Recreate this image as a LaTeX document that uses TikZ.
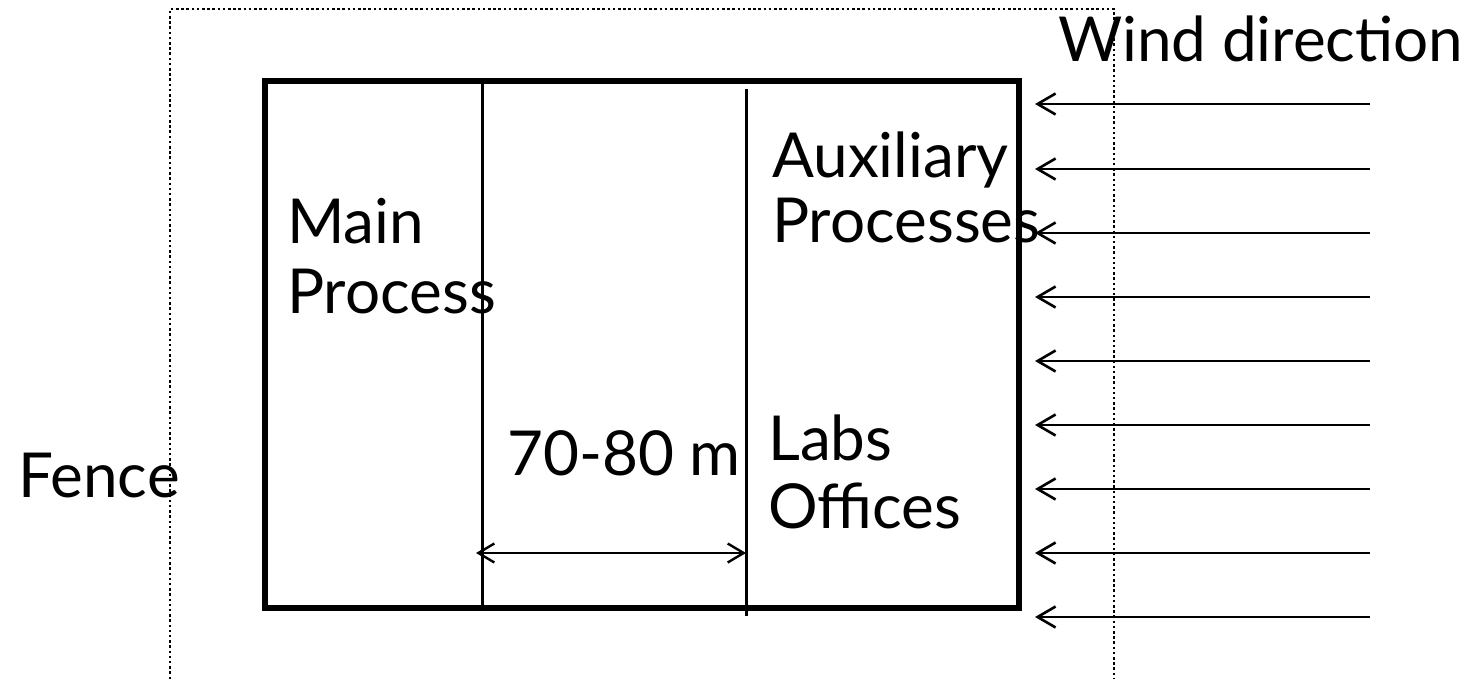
\documentclass[tikz,border=0pt]{standalone}
\usepackage{fontspec}
\setmainfont{Lato}
\usetikzlibrary{arrows.meta}
\begin{document}
\begin{tikzpicture}[x=1pt,y=-1pt,
  lbl/.style={inner sep=0pt, anchor=base west, align=left, font=\fontsize{62}{68}\selectfont},
  fenceline/.style={line width=2.5pt, dash pattern=on 2.5pt off 2.7pt},
  plant/.style={line width=6pt},
  divider/.style={line width=3pt},
  wind/.style={line width=2.6pt, -{Straight Barb[length=18pt,width=21pt]}},
  dim/.style={line width=2.4pt, {Straight Barb[length=16pt,width=19pt]}-{Straight Barb[length=16pt,width=19pt]}}]
\useasboundingbox (0,0) rectangle (1475,679);
% fence
\draw[fenceline] (170,679) -- (170,9) -- (1114,9) -- (1114,679);
% plant area
\draw[plant] (265,81) rectangle (1019,608);
\coordinate (d1top) at (482,81);
\coordinate (d1bot) at (482,608);
\coordinate (d2top) at (746,89);
\coordinate (d2bot) at (746,616);
\draw[divider] (d1top) -- (d1bot);
\draw[divider] (d2top) -- (d2bot);
% dimension
\coordinate (dimL) at (476,553);
\coordinate (dimR) at (746,553);
\draw[dim] (dimL) -- (dimR);
% wind arrows
\foreach \i/\y in {1/104,2/169,3/233,4/297,5/361,6/425,7/489,8/553,9/617}{
  \coordinate (ws\i) at (1370,\y);
  \coordinate (we\i) at (1035,\y);
  \draw[wind] (ws\i) -- (we\i);
}
% labels (multi-line nodes are anchored at the baseline of their last line)
\node[lbl] (wind) at (1058,62) {Wind direction};
\node[lbl, font=\fontsize{62}{70}\selectfont] (main) at (287,313) {Main\\Process};
\node[lbl, font=\fontsize{62}{66}\selectfont] (aux) at (772,243) {Auxiliary\\Processes};
\node[lbl] (fence) at (18,497) {Fence};
\node[lbl] (dist) at (507,475) {70-80 m};
\node[lbl] (labs) at (768,528) {Labs\\Offices};
\end{tikzpicture}
\end{document}
